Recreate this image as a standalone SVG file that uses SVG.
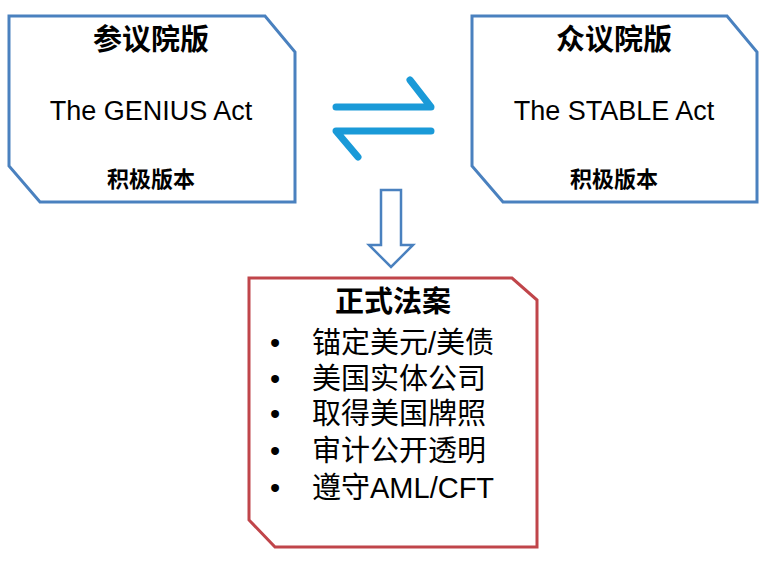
<svg xmlns="http://www.w3.org/2000/svg" width="764" height="562" viewBox="0 0 764 562">
<style>
.box{fill:#fff;stroke-width:3}
.b{stroke:#4a81bf}.r{stroke:#c0454a}
text{font-family:"Liberation Sans","Noto Sans CJK SC",sans-serif;fill:#000}
.t{font-size:29px;font-weight:bold;text-anchor:middle}
.e{font-size:27px;text-anchor:middle}
.s{font-size:22px;font-weight:bold;text-anchor:middle}
.l{font-size:29px}
</style>
<rect width="764" height="562" fill="#fff"/>
<g id="senate">
<path class="box b" d="M9,16 H265 L295,52 V202 H40 L9,166 Z"/>
<text class="t" x="151" y="50">参议院版</text>
<text class="e" x="151" y="120">The GENIUS Act</text>
<text class="s" x="151" y="187">积极版本</text>
</g>
<g id="house">
<path class="box b" d="M472,16 H727 L757,52 V202 H503 L472,166 Z"/>
<text class="t" x="614" y="50">众议院版</text>
<text class="e" x="614" y="120">The STABLE Act</text>
<text class="s" x="614" y="187">积极版本</text>
</g>
<g id="law">
<path class="box r" d="M249,278 H512 L537,300 V547 H275 L249,520 Z"/>
<text class="t" x="393" y="312">正式法案</text>
<g class="l">
<text x="270" y="353">•</text><text x="312" y="353">锚定美元/美债</text>
<text x="270" y="389">•</text><text x="312" y="389">美国实体公司</text>
<text x="270" y="424">•</text><text x="312" y="424">取得美国牌照</text>
<text x="270" y="461">•</text><text x="312" y="461">审计公开透明</text>
<text x="270" y="498">•</text><text x="312" y="498">遵守AML/CFT</text>
</g>
</g>
<g id="connectors" fill="none" stroke-linecap="round" stroke-linejoin="round">
<path d="M336,107 H431 L410,80" stroke="#1a9ad8" stroke-width="7"/>
<path d="M431,131 H336 L358,157" stroke="#1a9ad8" stroke-width="7"/>
<path d="M381,190 H401 V245 H413 L391,267 L369,245 H381 Z" stroke="#4a81bf" stroke-width="2.5" stroke-linejoin="miter" fill="#fff"/>
</g>
</svg>
